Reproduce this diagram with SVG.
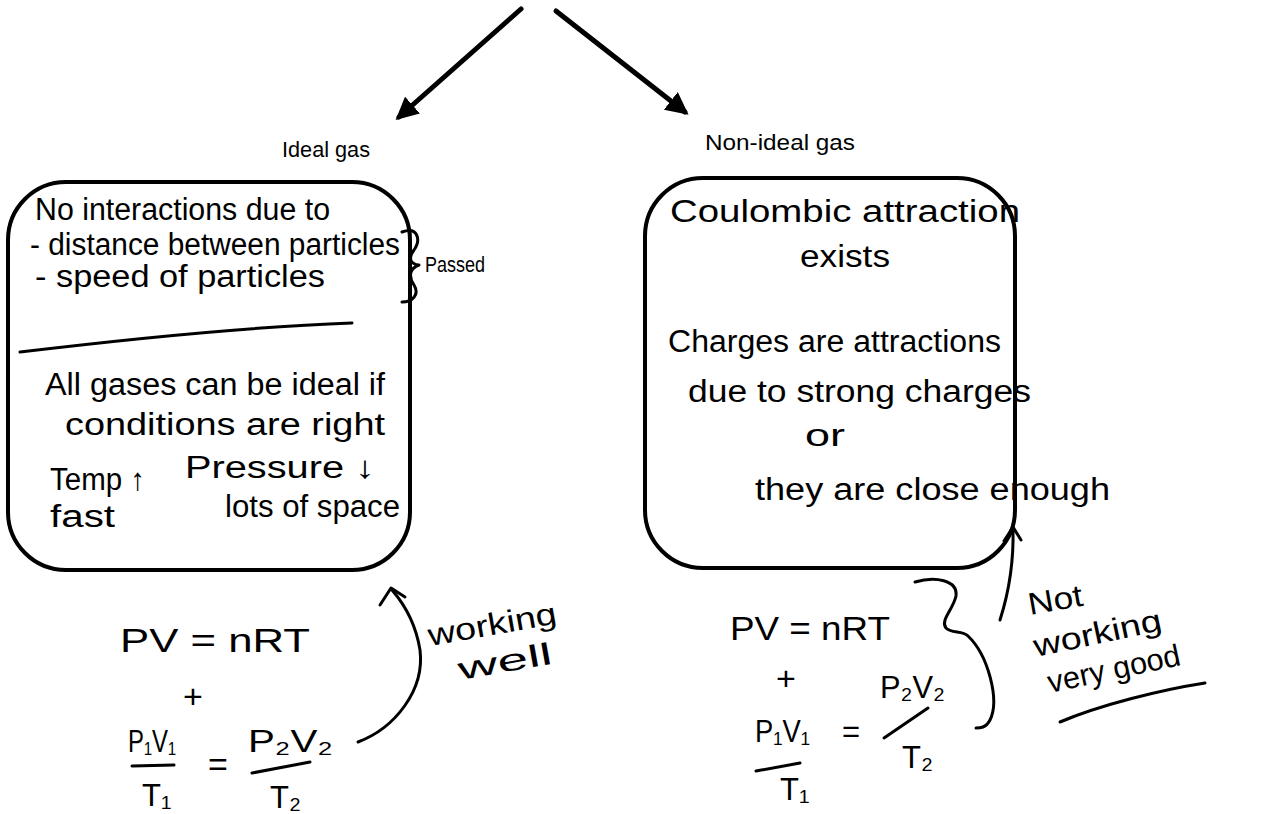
<svg xmlns="http://www.w3.org/2000/svg" width="1277" height="814" viewBox="0 0 1277 814">
<defs>
<style>
.bg{fill:#ffffff}
.box{fill:none;stroke:#000;stroke-width:4}
.ink{fill:none;stroke:#000;stroke-width:3;stroke-linecap:round;stroke-linejoin:round}
.conn{fill:none;stroke:#000;stroke-width:5;stroke-linecap:round}
.label{font-family:"Liberation Sans",Arial,sans-serif;font-size:22px;fill:#000}
.hw{font-family:"Liberation Sans",Arial,sans-serif;font-size:31px;fill:#000}
.hs{font-family:"Liberation Sans",Arial,sans-serif;font-size:22px;fill:#000}
.eq{font-family:"Liberation Sans",Arial,sans-serif;font-size:34px;fill:#000}
</style>
<marker id="ah" viewBox="0 0 10 10" refX="8" refY="5" markerWidth="4.5" markerHeight="4.5" orient="auto-start-reverse">
<path d="M0,0 L10,5 L0,10 z" fill="#000"/>
</marker>
</defs>
<rect class="bg" x="0" y="0" width="1277" height="814"/>

<g id="connectors">
<line class="conn" x1="521" y1="9" x2="399" y2="117" marker-end="url(#ah)"/>
<line class="conn" x1="556" y1="11" x2="685" y2="112" marker-end="url(#ah)"/>
<path class="ink" d="M358,742 C395,728 425,690 420,650 C416,625 405,605 392,590"/>
<path class="ink" d="M380,605 L391,588 L405,597"/>
<path class="ink" d="M1000,620 C1008,595 1014,565 1013,528"/>
<path class="ink" d="M1004,541 L1013,527 L1021,540"/>
<path class="ink" d="M915,582 C935,576 958,580 956,596 C953,610 940,620 946,628 C952,634 962,630 968,636 C988,655 1000,700 990,720 C986,728 980,728 976,728"/>
<path class="ink" d="M402,232 C418,226 421,240 414,250 C408,258 410,264 419,265 C410,268 408,276 414,285 C420,295 412,302 402,302"/>
</g>

<g id="node-ideal">
<text class="label" x="282" y="157" textLength="88" lengthAdjust="spacingAndGlyphs">Ideal gas</text>
<rect class="box" x="8" y="182" width="402" height="388" rx="58"/>
<text class="hw" x="35" y="220" textLength="295" lengthAdjust="spacingAndGlyphs">No interactions due to</text>
<text class="hw" x="30" y="255" textLength="370" lengthAdjust="spacingAndGlyphs">- distance between particles</text>
<text class="hw" x="35" y="287" textLength="290" lengthAdjust="spacingAndGlyphs">- speed of particles</text>
<path class="ink" d="M20,352 C120,340 240,327 352,323"/>
<text class="hw" x="45" y="395" textLength="340" lengthAdjust="spacingAndGlyphs">All gases can be ideal if</text>
<text class="hw" x="65" y="435" textLength="320" lengthAdjust="spacingAndGlyphs">conditions are right</text>
<text class="hw" x="50" y="490" textLength="95" lengthAdjust="spacingAndGlyphs">Temp ↑</text>
<text class="hw" x="185" y="478" textLength="190" lengthAdjust="spacingAndGlyphs">Pressure ↓</text>
<text class="hw" x="50" y="527" textLength="65" lengthAdjust="spacingAndGlyphs">fast</text>
<text class="hw" x="225" y="517" textLength="175" lengthAdjust="spacingAndGlyphs">lots of space</text>
<text class="hs" x="425" y="272" textLength="60" lengthAdjust="spacingAndGlyphs">Passed</text>
</g>

<g id="node-nonideal">
<text class="label" x="705" y="150" textLength="150" lengthAdjust="spacingAndGlyphs">Non-ideal gas</text>
<rect class="box" x="645" y="178" width="370" height="390" rx="58"/>
<text class="hw" x="670" y="222" textLength="350" lengthAdjust="spacingAndGlyphs">Coulombic attraction</text>
<text class="hw" x="800" y="267" textLength="90" lengthAdjust="spacingAndGlyphs">exists</text>
<text class="hw" x="668" y="352" textLength="333" lengthAdjust="spacingAndGlyphs">Charges are attractions</text>
<text class="hw" x="688" y="402" textLength="343" lengthAdjust="spacingAndGlyphs">due to strong charges</text>
<text class="hw" x="805" y="446" textLength="40" lengthAdjust="spacingAndGlyphs">or</text>
<text class="hw" x="755" y="500" textLength="355" lengthAdjust="spacingAndGlyphs">they are close enough</text>
</g>

<g id="node-ideal-eq">
<text class="eq" x="120" y="652" textLength="190" lengthAdjust="spacingAndGlyphs">PV = nRT</text>
<text class="eq" x="183" y="708">+</text>
<text class="hw" x="128" y="752" textLength="48" lengthAdjust="spacingAndGlyphs">P₁V₁</text>
<path class="ink" d="M132,766 L174,765"/>
<text class="hw" x="142" y="806">T₁</text>
<text class="eq" x="208" y="776">=</text>
<text class="hw" x="248" y="752" textLength="85" lengthAdjust="spacingAndGlyphs">P₂V₂</text>
<path class="ink" d="M252,773 L310,762"/>
<text class="hw" x="270" y="808">T₂</text>
<text class="hw" x="430" y="646" textLength="130" lengthAdjust="spacingAndGlyphs" transform="rotate(-10 430 646)">working</text>
<text class="hw" x="460" y="680" textLength="95" lengthAdjust="spacingAndGlyphs" transform="rotate(-10 460 680)">well</text>
</g>

<g id="node-nonideal-eq">
<text class="eq" x="730" y="640" textLength="160" lengthAdjust="spacingAndGlyphs">PV = nRT</text>
<text class="eq" x="776" y="690">+</text>
<text class="hw" x="755" y="742" textLength="55" lengthAdjust="spacingAndGlyphs">P₁V₁</text>
<path class="ink" d="M756,771 L800,763"/>
<text class="hw" x="780" y="800">T₁</text>
<text class="hw" x="842" y="742">=</text>
<text class="hw" x="880" y="698" textLength="65" lengthAdjust="spacingAndGlyphs">P₂V₂</text>
<path class="ink" d="M884,738 L928,708"/>
<text class="hw" x="902" y="768">T₂</text>
<text class="hw" x="1030" y="615" textLength="55" lengthAdjust="spacingAndGlyphs" transform="rotate(-10 1030 615)">Not</text>
<text class="hw" x="1036" y="657" textLength="130" lengthAdjust="spacingAndGlyphs" transform="rotate(-12 1036 657)">working</text>
<text class="hw" x="1050" y="693" textLength="135" lengthAdjust="spacingAndGlyphs" transform="rotate(-12 1050 693)">very good</text>
<path class="ink" d="M1060,722 C1100,705 1160,690 1205,683"/>
</g>
</svg>
